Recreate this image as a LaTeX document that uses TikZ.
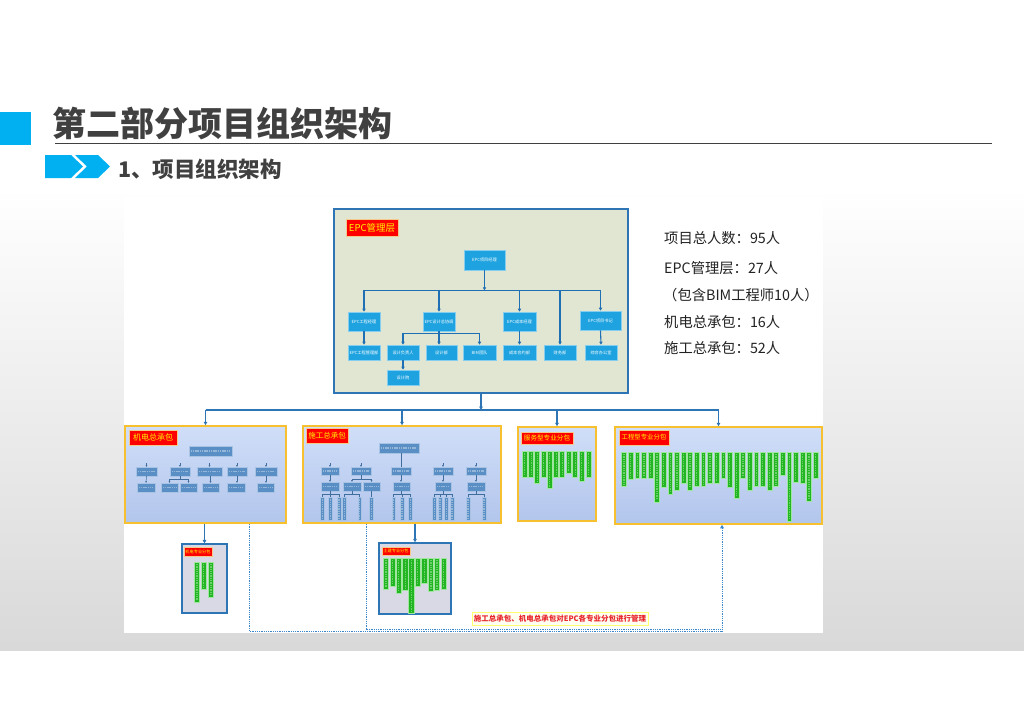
\documentclass[tikz,border=0pt]{standalone}
\usepackage{fontspec}
\setmainfont{Noto Sans CJK SC}
\usetikzlibrary{arrows.meta}
\definecolor{titlegray}{HTML}{404040}
\definecolor{skyblue}{HTML}{00B0F0}
\definecolor{epcfill}{HTML}{E0E6D1}
\definecolor{epcborder}{HTML}{2E75B6}
\definecolor{cyanbox}{HTML}{1FA3E0}
\definecolor{cyanedge}{HTML}{86CEF0}
\definecolor{linkblue}{HTML}{1F6FB5}
\definecolor{goldedge}{HTML}{F6C02E}
\definecolor{paleA}{HTML}{D0DEF8}
\definecolor{paleB}{HTML}{B2C5EC}
\definecolor{steelbox}{HTML}{5A8FC6}
\definecolor{steeledge}{HTML}{A8C3E3}
\definecolor{tinyline}{HTML}{3F6E9E}
\definecolor{greenbar}{HTML}{22B622}
\definecolor{greenedge}{HTML}{A0E6A0}
\definecolor{lavbox}{HTML}{D9D9E5}
\definecolor{notefill}{HTML}{FFFFF2}
\definecolor{noteedge}{HTML}{FFFF70}
\definecolor{notered}{HTML}{E8262B}
\definecolor{labedge}{HTML}{F4C98A}
\definecolor{textdark}{HTML}{222222}
\definecolor{dotblue}{HTML}{3C87CC}
\tikzset{
  epcbox/.style={rectangle, fill=cyanbox, draw=cyanedge, line width=0.6pt, inner sep=0pt, text=white, font=\fontsize{4.2}{5}\selectfont},
  redlab/.style={rectangle, fill=red, draw=labedge, line width=0.6pt, inner sep=0pt, text=yellow},
  grp/.style={rectangle, draw=goldedge, line width=1.5pt, top color=paleA, bottom color=paleB, inner sep=0pt},
  subgrp/.style={rectangle, draw=epcborder, line width=1.3pt, fill=lavbox, inner sep=0pt},
  htex/.style={path picture={\draw[white, opacity=0.35, line width=1.1pt, dash pattern=on 1.1pt off 0.7pt] ([xshift=2pt]path picture bounding box.west) -- ([xshift=-2pt]path picture bounding box.east);}},
  vtex/.style={path picture={\draw[white, opacity=0.35, line width=1.3pt, dash pattern=on 1.3pt off 1pt] ([yshift=-2pt]path picture bounding box.north) -- ([yshift=2pt]path picture bounding box.south);}},
  sbox/.style={rectangle, fill=steelbox, draw=steeledge, line width=0.4pt, inner sep=0pt, minimum height=9pt, htex},
  sbar/.style={rectangle, fill=steelbox, draw=steeledge, line width=0.4pt, inner sep=0pt, minimum width=3.8pt, vtex},
  gbar/.style={rectangle, fill=greenbar, draw=greenedge, line width=0.5pt, inner sep=0pt, vtex},
  link/.style={draw=linkblue, line width=1.1pt},
  arr/.style={link, -{Triangle[length=3pt,width=3.2pt]}},
  mlink/.style={draw=epcborder, line width=1.2pt},
  marr/.style={mlink, -{Triangle[length=3.5pt,width=3.6pt]}},
  tlink/.style={draw=tinyline, line width=0.5pt},
  tarr/.style={tlink, -{Triangle[length=1.6pt,width=1.6pt]}},
  dotl/.style={draw=dotblue, line width=1pt, dash pattern=on 1pt off 0.8pt},
  stat/.style={anchor=west, inner sep=0pt, text=textdark, font=\fontsize{14.3}{15}\selectfont},
}
\begin{document}
\begin{tikzpicture}[x=1pt,y=-1pt]
\useasboundingbox (0,0) rectangle (1024,724);
\fill[white] (0,0) rectangle (1024,724);
\fill[top color=white, bottom color=gray!30] (0,188) rectangle (1024,650);
\fill[white] (124,197) rectangle (823,633);

% header
\fill[skyblue] (0,112) rectangle (31,145);
\node[anchor=west, inner sep=0pt, text=titlegray, font=\fontsize{34}{34}\selectfont\bfseries] (title) at (52,123) {第二部分项目组织架构};
\draw[titlegray, line width=0.9pt] (55,143) -- (992,143);
\fill[skyblue] (45,155) -- (71,155) -- (83,166.5) -- (71,178) -- (45,178) -- cycle;
\fill[skyblue] (75,155) -- (98,155) -- (110,166.5) -- (98,178) -- (75,178) -- (87,166.5) -- cycle;
\node[anchor=west, inner sep=0pt, text=titlegray, font=\fontsize{21.5}{22}\selectfont\bfseries] (sub) at (118,169) {1、项目组织架构};

% EPC layer
\node[draw=epcborder, line width=1.3pt, fill=epcfill, minimum width=294pt, minimum height=184pt, inner sep=0pt] (epc) at (481,301) {};
\node[redlab, minimum width=52pt, minimum height=17pt, font=\fontsize{9.5}{10}\selectfont] (epclab) at (372,227.5) {EPC管理层};
\node[epcbox, minimum width=41pt, minimum height=20pt] (pm) at (484.5,260) {EPC项目经理};
\node[epcbox, minimum width=32pt, minimum height=19pt] (r2a) at (364,321.5) {EPC工程经理};
\node[epcbox, minimum width=32pt, minimum height=19pt] (r2b) at (439,321.5) {EPC设计总协调};
\node[epcbox, minimum width=33pt, minimum height=19pt] (r2c) at (519.5,321.5) {EPC成本经理};
\node[epcbox, minimum width=41pt, minimum height=19pt] (r2d) at (600.5,320.5) {EPC项目书记};
\node[epcbox, minimum width=32pt, minimum height=15pt] (r3a) at (364,352.5) {EPC工程管理部};
\node[epcbox, minimum width=32pt, minimum height=15pt] (r3b) at (403,352.5) {设计负责人};
\node[epcbox, minimum width=31pt, minimum height=15pt] (r3c) at (441.5,352.5) {设计部};
\node[epcbox, minimum width=33pt, minimum height=15pt] (r3d) at (479.5,352.5) {BIM团队};
\node[epcbox, minimum width=33pt, minimum height=15pt] (r3e) at (519.5,352.5) {成本合约部};
\node[epcbox, minimum width=32pt, minimum height=15pt] (r3f) at (560,352.5) {财务部};
\node[epcbox, minimum width=32pt, minimum height=15pt] (r3g) at (601,352.5) {综合办公室};
\node[epcbox, minimum width=32pt, minimum height=15pt] (r4) at (403,377.5) {设计院};

\draw[arr] (pm.south) -- ++(0,20);
\foreach \n in {r2a,r2b,r2c,r2d,r3f} \draw[arr] (pm.south) -- ++(0,20) -| (\n.north);
\draw[arr] (r2a.south) -- (r3a.north);
\foreach \n in {r3b,r3d} \draw[arr] (r2b.south) -- ++(0,2.3) -| (\n.north);
\draw[arr] (r2b.south) -- (r2b.south |- r3c.north);
\draw[arr] (r2c.south) -- (r3e.north);
\draw[arr] (r2d.south) -- (r3g.north);
\draw[arr] (r3b.south) -- (r4.north);

% second level groups
\node[grp, minimum width=161pt, minimum height=97pt] (jd) at (205.5,474.5) {};
\node[grp, minimum width=198pt, minimum height=97pt] (sg) at (402,474.5) {};
\node[grp, minimum width=78pt, minimum height=94pt] (fw) at (557,474) {};
\node[grp, minimum width=207pt, minimum height=97pt] (gc) at (718.5,475.5) {};
\node[redlab, minimum width=48pt, minimum height=15pt, font=\fontsize{8}{9}\selectfont] (jdlab) at (153,437.5) {机电总承包};
\node[redlab, minimum width=42pt, minimum height=15pt, font=\fontsize{7.5}{8}\selectfont] (sglab) at (327,435.5) {施工总承包};
\node[redlab, minimum width=52pt, minimum height=12pt, font=\fontsize{6.6}{7}\selectfont] (fwlab) at (547,438) {服务型专业分包};
\node[redlab, minimum width=50pt, minimum height=15pt, font=\fontsize{6.4}{7}\selectfont] (gclab) at (644,437.5) {工程型专业分包};

\coordinate (mbus) at (481,410);
\draw[marr] (epc.south) -- (epc.south |- mbus);
\draw[mlink] (jd.north |- mbus) -- (gc.north |- mbus);
\foreach \n in {jd,sg,fw,gc} \draw[marr] (\n.north |- mbus) -- (\n.north);

% inside 机电总承包
\node[sbox, minimum width=43pt, minimum height=10pt] (j0) at (210.5,451) {};
\foreach \x/\w [count=\i] in {146.5/21,180/20,209.5/25,237/20,266/22}
  \node[sbox, minimum width=\w pt] (j2\i) at (\x,471.5) {};
\foreach \x/\w [count=\i] in {146/18,169.5/17,188.5/17,210.5/17,236/18,265.5/17}
  \node[sbox, minimum width=\w pt] (j3\i) at (\x,487.5) {};
\foreach \i in {1,...,5} \draw[tarr] ([yshift=3.5pt]j2\i.north) -- (j2\i.north);
\draw[tarr] (j21.south) -- (j31.north);
\draw[tarr] (j22.south) -- ++(0,3.5) -| (j32.north);
\draw[tarr] (j22.south) -- ++(0,3.5) -| (j33.north);
\draw[tarr] (j23.south) -- (j23.south -| j34.north) -- (j34.north);
\draw[tarr] (j24.south) -- (j35.north -| j24.south);
\draw[tarr] (j25.south) -- (j36.north -| j25.south);

% inside 施工总承包
\node[sbox, minimum width=40pt, minimum height=10pt] (s0) at (399,448) {};
\foreach \x/\w [count=\i] in {330/18,361/20,401/20,443/20,476/20}
  \node[sbox, minimum width=\w pt, minimum height=8pt] (s2\i) at (\x,471) {};
\foreach \x/\w [count=\i] in {330/18,352/18,371.5/17,401.5/17,443/16,476/18}
  \node[sbox, minimum width=\w pt] (s3\i) at (\x,486.5) {};
\draw[tlink, line width=0.6pt] (s23.north |- s0.south) -- (s23.north);
\foreach \i in {1,2,4,5} \draw[tarr] ([yshift=3.5pt]s2\i.north) -- (s2\i.north);
\draw[tarr] (s21.south) -- (s31.north);
\draw[tarr] (s22.south) -- ++(0,4) -| (s32.north);
\draw[tarr] (s22.south) -- ++(0,4) -| (s33.north);
\draw[tarr] (s23.south) -- (s34.north -| s23.south);
\draw[tarr] (s24.south) -- (s35.north);
\draw[tarr] (s25.south) -- (s36.north);
\foreach \x/\e [count=\i] in {322.4/519.5,330.4/519.5,339/519.5,344.2/519.5,359.7/520,371.4/519.5,393.7/519.5,402/519.5,410.4/519.5,434.5/519.5,440/519.5,446.5/519.5,452/519.5,468/519.5,484/519.5}{
  \pgfmathsetmacro\hh{\e-497}
  \node[sbar, minimum height=\hh pt, anchor=north] (w\i) at (\x,497) {};
}
\foreach \p/\c in {s31/w1,s31/w2,s31/w3,s32/w4,s32/w5,s33/w6,s34/w7,s34/w8,s34/w9,s35/w10,s35/w11,s35/w12,s35/w13,s36/w14,s36/w15}
  \draw[tlink] (\p.south) -- ++(0,3) -| (\c.north);

% 服务型专业分包 bars
\foreach \x/\e [count=\i] in {524.5/476.7,531.2/476.7,537.2/482.7,543.5/476.7,549.5/488.3,556.2/476.7,562.2/476.7,568.5/472.7,575.2/476.7,581.8/480.7,588.5/477.3}{
  \pgfmathsetmacro\hh{\e-451}
  \node[gbar, minimum width=5pt, minimum height=\hh pt, anchor=north] (sv\i) at (\x,451) {};
}

% 工程型专业分包 bars
\foreach \z [count=\i from 0] in {198,178,175,175,175,245,200,222,210,188,210,197,198,188,188,175,200,233,175,210,198,198,210,198,165,302,185,188,243,175}{
  \pgfmathsetmacro\xx{624.05+\i*6.607}
  \pgfmathsetmacro\hh{420+\z/3-451.7}
  \node[gbar, minimum width=4.8pt, minimum height=\hh pt, anchor=north] (eb\i) at (\xx,451.7) {};
}

% lower subcontract boxes
\node[subgrp, minimum width=45pt, minimum height=69pt] (jdsub) at (204.5,578.5) {};
\node[subgrp, minimum width=72pt, minimum height=71pt] (tjsub) at (415,578.5) {};
\node[redlab, minimum width=28pt, minimum height=9pt, font=\fontsize{4.2}{5}\selectfont] (jdsublab) at (198,551.5) {机电专业分包};
\node[redlab, minimum width=28pt, minimum height=8pt, font=\fontsize{4.2}{5}\selectfont] (tjsublab) at (396,551) {土建专业分包};
\foreach \x/\e [count=\i] in {197/601.7,203.7/589,211/596.7}{
  \pgfmathsetmacro\hh{\e-561.7}
  \node[gbar, minimum width=5.4pt, minimum height=\hh pt, anchor=north] (jb\i) at (\x,561.7) {};
}
\foreach \x/\e [count=\i] in {386/589,392.7/585.7,398.7/593.3,405.3/590,411.3/612.7,417.7/586,424.3/582.7,431/590.7,437/590,443.7/589}{
  \pgfmathsetmacro\hh{\e-557.7}
  \node[gbar, minimum width=5.3pt, minimum height=\hh pt, anchor=north] (tb\i) at (\x,557.7) {};
}
\draw[marr] (jdsub.north |- jd.south) -- (jdsub.north);
\draw[marr] (tjsub.north |- sg.south) -- (tjsub.north);

% dotted management lines
\coordinate (dA) at (249,631);
\coordinate (dB) at (366,629);
\coordinate (dR) at (722,0);
\draw[dotl, -{Triangle[length=3.5pt,width=3.6pt]}] (jd.south -| dA) -- (dA) -| (gc.south -| dR);
\draw[dotl] (sg.south -| dB) -- (dB) -- (dB -| dR);

% note
\node[draw=noteedge, line width=1pt, fill=notefill, minimum width=176pt, minimum height=13pt, inner sep=0pt, text=notered, font=\fontsize{7.5}{8}\selectfont\bfseries] (note) at (560,618.5) {施工总承包、机电总承包对EPC各专业分包进行管理};

% statistics
\node[stat] (st1) at (664,238) {项目总人数：95人};
\node[stat] (st2) at (664,267.7) {EPC管理层：27人};
\node[stat] (st3) at (663,295) {（包含BIM工程师10人）};
\node[stat] (st4) at (664,321.7) {机电总承包：16人};
\node[stat] (st5) at (664,347.7) {施工总承包：52人};
\end{tikzpicture}
\end{document}
